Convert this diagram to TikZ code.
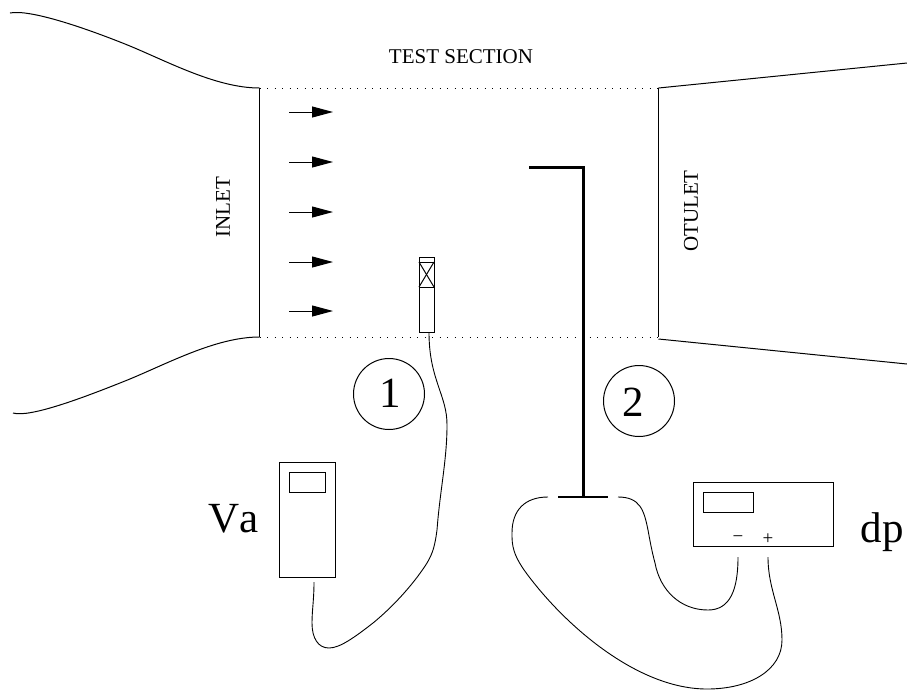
\documentclass[tikz,border=0pt]{standalone}
\usepackage{fontspec}
\setmainfont{Liberation Serif}
\usetikzlibrary{arrows.meta}
\begin{document}
\begin{tikzpicture}[x=1pt, y=-1pt, line width=1pt,
  flow/.style = {-{Triangle[length=21pt,width=11pt]}, line width=1pt},
  dotline/.style = {line width=1pt, dash pattern=on 1pt off 6.5pt},
  box/.style = {draw, inner sep=0pt, minimum size=0pt, anchor=north west},
  circ/.style = {draw, circle, minimum size=71pt, inner sep=0pt},
  small/.style = {font=\fontsize{21}{21}\selectfont},
  big/.style = {font=\fontsize{43}{43}\selectfont},
  wire/.style = {line width=0.9pt}]
\useasboundingbox (0,0) rectangle (907,689);

% tunnel corners
\coordinate (il) at (259.5,88);
\coordinate (ib) at (259.5,337);
\coordinate (ol) at (658.5,88);
\coordinate (ob) at (658.5,337);
\coordinate (oc) at (658.5,339);

\node[small] (test) at (461,57) {TEST SECTION};
\node[small, rotate=90] (inlet) at (223,207) {INLET};
\node[small, rotate=90] (outlet) at (691,211) {OTULET};

\draw (il) -- (ib);
\draw (ol) -- (ob);
\draw[dotline] (il) -- (ol);
\draw[dotline] (ib) -- (ob);
\draw (ol) -- (907,63);
\draw (oc) -- (907,364);
\draw (10,13) .. controls (30,9) and (85,28) .. (125,44) .. controls (165,60) and (215,88) .. (il);
\draw (ib) .. controls (215,337) and (165,365) .. (125,381) .. controls (85,397) and (30,418) .. (13,413);

% flow arrows
\foreach \ya/\yb in {112/a, 162/b, 212/c, 262/d, 311/e} {
  \coordinate (s\yb) at (289,\ya);
  \coordinate (t\yb) at (333,\ya);
  \draw[flow] (s\yb) -- (t\yb);
}

% probe 1
\node[box, minimum width=15pt, minimum height=75pt] (probe) at (419,257) {};
\coordinate (pa) at (419,262);
\coordinate (pb) at (434,262);
\coordinate (pc) at (419,287);
\coordinate (pd) at (434,287);
\draw (pa) -- (pb);
\draw (pc) -- (pd);
\draw (pa) -- (pd);
\draw (pb) -- (pc);

% pitot 2
\coordinate (tip) at (529,167);
\coordinate (bend) at (583,167);
\coordinate (foot) at (583,497);
\coordinate (fl) at (558,497);
\coordinate (fr) at (608,497);
\draw[line width=3pt] (tip) -- (bend) -- (foot);
\draw[line width=2pt] (fl) -- (fr);

% circles
\node[circ] (one) at (389,394) {};
\node[circ] (two) at (639,401) {};
\node[big] (onet) at (390,393) {1};
\node[big] (twot) at (633,402) {2};

% Va meter
\node[box, minimum width=56pt, minimum height=115pt] (va) at (279,462) {};
\node[box, minimum width=36pt, minimum height=20pt] (vascr) at (289,472) {};
\node[big, anchor=base east, inner sep=0pt] (valab) at (259,532) {V\kern0pt a};

% dp meter
\node[box, minimum width=140pt, minimum height=64pt] (dp) at (693,482) {};
\node[box, minimum width=50pt, minimum height=20pt] (dpscr) at (703,492) {};
\node[small, font=\fontsize{19}{19}\selectfont] (minus) at (738,539) {−};
\node[small, font=\fontsize{19}{19}\selectfont] (plus) at (768,539) {+};
\node[big, anchor=base east, inner sep=0pt] (dplab) at (904,542) {dp};

% wires
\coordinate (w1a) at (429,332);
\coordinate (w1b) at (314,582);
\coordinate (w2a) at (738,557);
\coordinate (w2b) at (618,497);
\coordinate (w3a) at (768,557);
\coordinate (w3b) at (548,497);
\draw[wire] (w1a) .. controls (429,355) and (433,370) .. (438,385)
  .. controls (443,400) and (447,410) .. (447,425)
  .. controls (447,460) and (440,490) .. (437,530)
  .. controls (435,545) and (433,553) .. (427,563)
  .. controls (415,582) and (395,605) .. (373,623)
  .. controls (355,637) and (340,648) .. (329,648)
  .. controls (318,648) and (312,638) .. (312,623)
  .. controls (312,610) and (314,600) .. (w1b);
\draw[wire] (w2a) .. controls (738,590) and (730,610) .. (708,610)
  .. controls (680,610) and (660,590) .. (655,563)
  .. controls (652,552) and (650,541) .. (648,530)
  .. controls (644,510) and (640,497) .. (w2b);
\draw[wire] (w3a) .. controls (768,590) and (782,610) .. (782,640)
  .. controls (782,670) and (750,689) .. (707,689)
  .. controls (640,689) and (570,630) .. (530,578)
  .. controls (512,555) and (512,545) .. (512,533)
  .. controls (512,510) and (525,497) .. (w3b);
\end{tikzpicture}
\end{document}
